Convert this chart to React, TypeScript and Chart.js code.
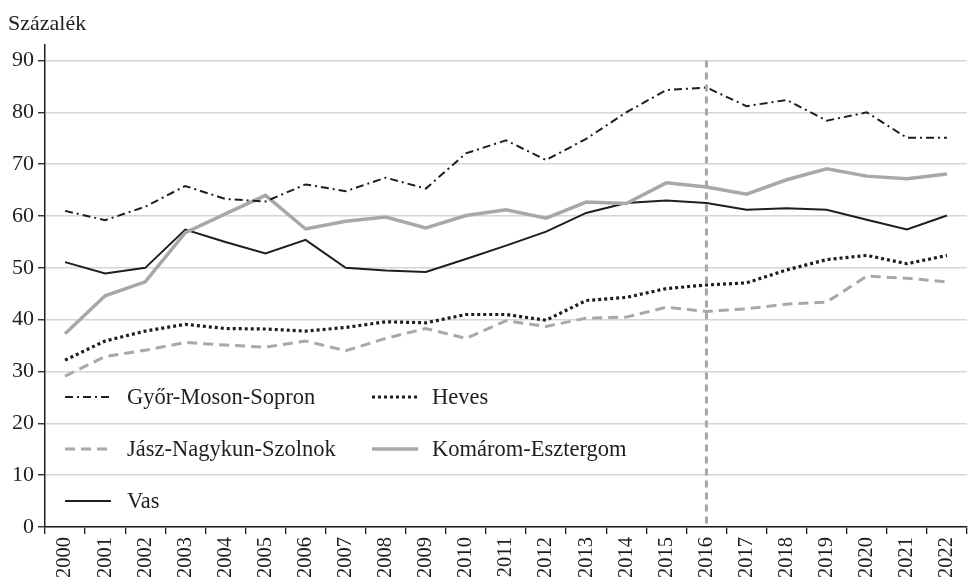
import React, { useEffect, useRef } from 'react';
import { Chart, registerables } from 'chart.js';

Chart.register(...registerables);

const years = ['2000', '2001', '2002', '2003', '2004', '2005', '2006', '2007', '2008', '2009', '2010', '2011', '2012', '2013', '2014', '2015', '2016', '2017', '2018', '2019', '2020', '2021', '2022'];

const gyorMosonSopron = [61.0, 59.2, 61.8, 65.8, 63.3, 62.8, 66.1, 64.8, 67.4, 65.3, 72.1, 74.6, 70.8, 74.9, 80.0, 84.3, 84.8, 81.2, 82.4, 78.4, 80.0, 75.1, 75.1];
const heves = [32.2, 35.9, 37.8, 39.1, 38.3, 38.2, 37.8, 38.5, 39.6, 39.4, 41.0, 41.0, 39.9, 43.7, 44.3, 46.0, 46.7, 47.1, 49.6, 51.6, 52.4, 50.8, 52.4];
const jaszNagykunSzolnok = [29.1, 32.9, 34.1, 35.6, 35.1, 34.7, 35.9, 34.0, 36.4, 38.3, 36.4, 39.8, 38.7, 40.3, 40.5, 42.4, 41.6, 42.1, 43.0, 43.4, 48.4, 48.0, 47.3];
const komaromEsztergom = [37.3, 44.6, 47.3, 56.8, 60.4, 64.0, 57.5, 59.0, 59.8, 57.7, 60.1, 61.2, 59.6, 62.7, 62.4, 66.4, 65.6, 64.2, 67.0, 69.1, 67.7, 67.2, 68.1];
const vas = [51.1, 48.9, 50.0, 57.4, 55.0, 52.8, 55.4, 50.0, 49.5, 49.2, 51.7, 54.3, 57.0, 60.6, 62.5, 63.0, 62.5, 61.2, 61.5, 61.2, 59.3, 57.4, 60.1];

const yTickValues = [0, 10, 20, 30, 40, 50, 60, 70, 80, 90];
const markerYear = '2016';
const yTitle = 'Százalék';

const FONT = '"Liberation Serif", "Times New Roman", serif';
const BLACK = '#1e1e1e';
const GRAY = '#a8a8a8';

export default function App() {
  const ref = useRef<HTMLCanvasElement | null>(null);

  useEffect(() => {
    if (!ref.current) return;

    const extras = {
      id: 'extras',
      afterDatasetsDraw(chart: any) {
        const ctx = chart.ctx;
        const xs = chart.scales.x;
        const ys = chart.scales.y;
        const x = xs.getPixelForValue(years.indexOf(markerYear));
        ctx.save();
        ctx.strokeStyle = GRAY;
        ctx.lineWidth = 3;
        ctx.setLineDash([7, 5]);
        ctx.beginPath();
        ctx.moveTo(x, ys.getPixelForValue(90));
        ctx.lineTo(x, chart.chartArea.bottom);
        ctx.stroke();
        ctx.restore();
      },
      afterDraw(chart: any) {
        const ctx = chart.ctx;
        ctx.save();
        ctx.fillStyle = BLACK;
        ctx.font = `22px ${FONT}`;
        ctx.textBaseline = 'middle';
        ctx.textAlign = 'left';
        ctx.fillText(yTitle, 8, 24);

        const slots = [
          { x: 65, tx: 127, y: 397 },
          { x: 372, tx: 432, y: 397 },
          { x: 65, tx: 127, y: 449 },
          { x: 372, tx: 432, y: 449 },
          { x: 65, tx: 127, y: 501 },
        ];
        chart.data.datasets.forEach((ds: any, i: number) => {
          const s = slots[i];
          ctx.save();
          ctx.strokeStyle = ds.borderColor;
          ctx.lineWidth = ds.borderWidth;
          ctx.setLineDash(ds.borderDash || []);
          ctx.lineCap = 'butt';
          ctx.beginPath();
          ctx.moveTo(s.x, s.y);
          ctx.lineTo(s.x + 46, s.y);
          ctx.stroke();
          ctx.restore();
          ctx.fillStyle = BLACK;
          ctx.font = `22.5px ${FONT}`;
          ctx.textBaseline = 'middle';
          ctx.fillText(ds.label, s.tx, s.y + 1);
        });
        ctx.restore();
      },
    };

    const chart = new Chart(ref.current, {
      type: 'line',
      data: {
        labels: years,
        datasets: [
          { label: 'Győr-Moson-Sopron', data: gyorMosonSopron, borderColor: BLACK, borderWidth: 2, borderDash: [8, 4, 2, 4] },
          { label: 'Heves', data: heves, borderColor: BLACK, borderWidth: 3.2, borderDash: [3, 3] },
          { label: 'Jász-Nagykun-Szolnok', data: jaszNagykunSzolnok, borderColor: GRAY, borderWidth: 3, borderDash: [10, 6] },
          { label: 'Komárom-Esztergom', data: komaromEsztergom, borderColor: GRAY, borderWidth: 3.5 },
          { label: 'Vas', data: vas, borderColor: BLACK, borderWidth: 2 },
        ].map((d) => ({ ...d, pointRadius: 0, tension: 0, fill: false })),
      },
      options: {
        animation: false,
        responsive: false,
        devicePixelRatio: 1,
        layout: { padding: { top: 45, right: 3, left: 0, bottom: 0 } },
        plugins: { legend: { display: false }, tooltip: { enabled: false }, title: { display: false } },
        scales: {
          x: {
            type: 'category',
            offset: true,
            afterFit(scale: any) { scale.height = 57; scale.paddingLeft = 0; scale.paddingRight = 0; },
            grid: { display: true, drawOnChartArea: false, offset: true, tickLength: 7, color: BLACK, lineWidth: 1.3 },
            border: { display: true, color: BLACK, width: 1.5 },
            ticks: { autoSkip: false, minRotation: 90, maxRotation: 90, padding: 3, color: BLACK, font: { family: FONT, size: 20.5 } },
          },
          y: {
            min: 0,
            max: 93,
            afterFit(scale: any) { scale.width = 45; scale.paddingTop = 0; scale.paddingBottom = 0; },
            afterBuildTicks(scale: any) { scale.ticks = yTickValues.map((v) => ({ value: v })); },
            grid: { color: '#d6d6d6', lineWidth: 1.5, tickLength: 7, tickColor: BLACK, tickWidth: 1.3 },
            border: { display: true, color: BLACK, width: 1.5 },
            ticks: { padding: 4, color: BLACK, font: { family: FONT, size: 22 } },
          },
        },
      },
      plugins: [extras],
    });

    return () => chart.destroy();
  }, []);

  return (
    <div style={{ position: 'absolute', left: 0, top: 0, width: 970, height: 584, background: '#fff' }}>
      <canvas ref={ref} width={970} height={584} />
    </div>
  );
}
